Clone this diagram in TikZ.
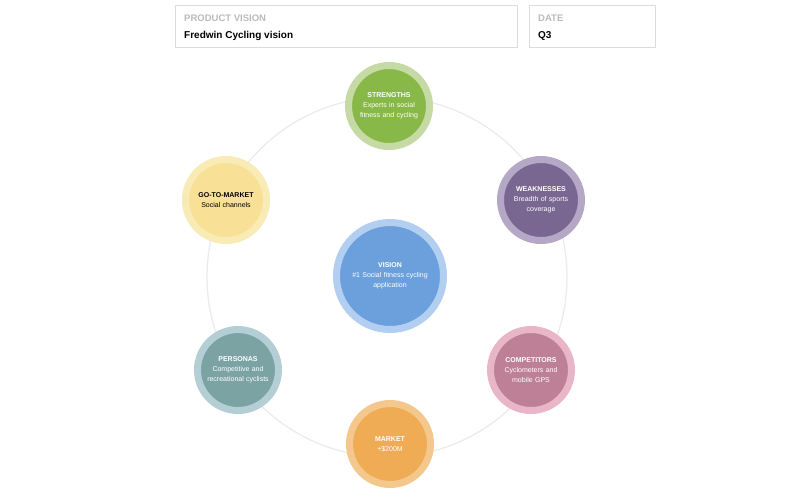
\documentclass[tikz,border=0pt]{standalone}
\usepackage{fontspec}
\setmainfont{Liberation Sans}
\definecolor{ringgray}{HTML}{EBEBEB}
\definecolor{boxgray}{HTML}{DCDCDC}
\definecolor{labgray}{HTML}{BBBBBB}
\definecolor{strIn}{HTML}{88B948}
\definecolor{strOut}{HTML}{C6DAA6}
\definecolor{weaIn}{HTML}{7A6791}
\definecolor{weaOut}{HTML}{B4A8C6}
\definecolor{comIn}{HTML}{BE8096}
\definecolor{comOut}{HTML}{E8B6C7}
\definecolor{marIn}{HTML}{F0AB55}
\definecolor{marOut}{HTML}{F4C88D}
\definecolor{perIn}{HTML}{7CA3A4}
\definecolor{perOut}{HTML}{B3CED4}
\definecolor{gtmIn}{HTML}{F8E196}
\definecolor{gtmOut}{HTML}{F9EBB6}
\definecolor{visIn}{HTML}{6BA0DC}
\definecolor{visOut}{HTML}{B2CEF0}
\tikzset{
  x=1pt, y=-1pt,
  bubble/.style={circle, line width=7pt, minimum size=81pt, inner sep=0pt,
    align=center, text width=70pt, font=\fontsize{7}{10}\selectfont, text=white},
  bigbubble/.style={bubble, minimum size=107pt, text width=90pt},
  hdrbox/.style={draw=boxgray, line width=0.8pt},
  hdrlabel/.style={anchor=west, text=labgray, font=\fontsize{9.5}{11}\selectfont\bfseries, inner sep=0pt},
  hdrvalue/.style={anchor=west, text=black, font=\fontsize{10}{12}\selectfont\bfseries, inner sep=0pt}
}
\begin{document}
\begin{tikzpicture}
\useasboundingbox (0,0) rectangle (800,496);
\fill[white] (0,0) rectangle (800,496);
% header
\draw[hdrbox] (175,5) rectangle (517,47);
\draw[hdrbox] (529,5) rectangle (655,47);
\node[hdrlabel] (pvl) at (184,18) {PRODUCT VISION};
\node[hdrvalue] (pvv) at (184,36) {Fredwin Cycling vision};
\node[hdrlabel] (dl) at (538,18) {DATE};
\node[hdrvalue] (dv) at (538,36) {Q3};
% ring
\draw[ringgray, line width=1.2pt] (387,277) circle (180);
% bubbles
\node[bigbubble, draw=visOut, fill=visIn] (vision) at (390,276)
  {\textbf{VISION}\\\#1 Social fitness cycling\\application};
\node[bubble, draw=strOut, fill=strIn] (str) at (389,106)
  {\textbf{STRENGTHS}\\Experts in social\\fitness and cycling};
\node[bubble, draw=weaOut, fill=weaIn] (wea) at (541,200)
  {\textbf{WEAKNESSES}\\Breadth of sports\\coverage};
\node[bubble, draw=comOut, fill=comIn] (com) at (531,370)
  {\textbf{COMPETITORS}\\Cyclometers and\\mobile GPS};
\node[bubble, draw=marOut, fill=marIn] (mar) at (390,444)
  {\textbf{MARKET}\\+\$200M};
\node[bubble, draw=perOut, fill=perIn] (per) at (238,370)
  {\textbf{PERSONAS}\\Competitive and\\recreational cyclists};
\node[bubble, draw=gtmOut, fill=gtmIn, text=black] (gtm) at (226,200)
  {\textbf{GO-TO-MARKET}\\Social channels};
\end{tikzpicture}
\end{document}
